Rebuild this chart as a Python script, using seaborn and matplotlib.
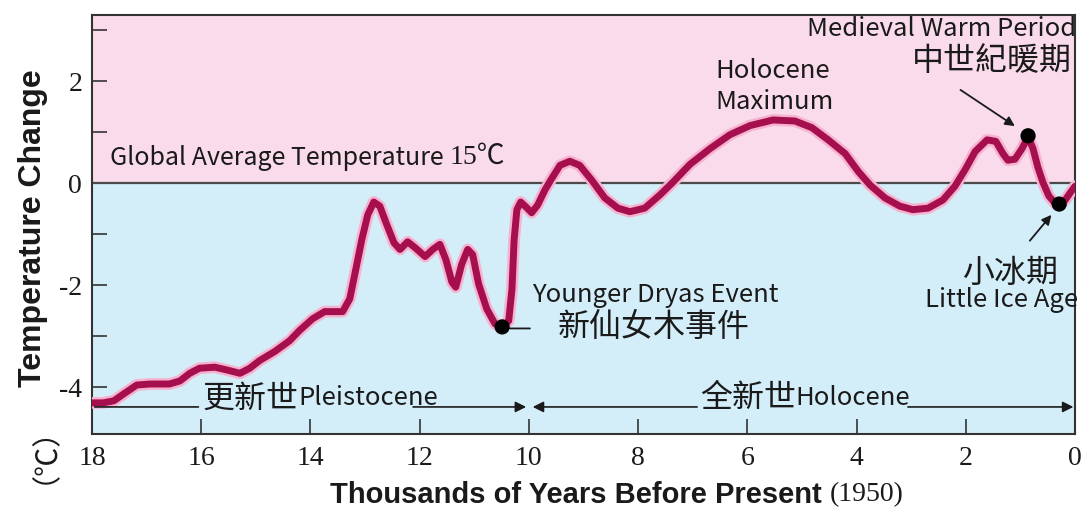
import matplotlib
matplotlib.use("Agg")
import matplotlib.pyplot as plt
import matplotlib.patheffects as pe
import seaborn as sns
import pandas as pd

# Temperature change curve
# years: thousands of years before present (1950), temp: change in degC
years = [18.0, 17.8, 17.6, 17.4, 17.18, 16.94, 16.58, 16.39, 16.21, 16.03,
         15.75, 15.51, 15.29, 15.11, 14.93, 14.65, 14.38, 14.2, 13.96, 13.74,
         13.41, 13.28, 13.15, 13.06, 12.95, 12.84, 12.73, 12.6, 12.47, 12.36,
         12.22, 12.09, 11.9, 11.76, 11.63, 11.52, 11.41, 11.34, 11.23, 11.12,
         11.03, 10.92, 10.77, 10.62, 10.49, 10.37, 10.31, 10.27, 10.22, 10.15,
         10.05, 9.95, 9.84, 9.71, 9.6, 9.43, 9.25, 9.07, 8.85, 8.61,
         8.37, 8.15, 7.88, 7.6, 7.38, 7.05, 6.68, 6.32, 5.95, 5.53,
         5.13, 4.82, 4.52, 4.21, 3.97, 3.75, 3.48, 3.21, 2.97, 2.69,
         2.42, 2.2, 2.01, 1.83, 1.61, 1.45, 1.32, 1.23, 1.1, 0.97,
         0.86, 0.77, 0.68, 0.59, 0.48, 0.37, 0.29, 0.18, 0.09, 0.0]
temp = [-4.31, -4.31, -4.27, -4.12, -3.96, -3.94, -3.94, -3.88, -3.73, -3.63,
        -3.61, -3.67, -3.73, -3.63, -3.48, -3.3, -3.09, -2.89, -2.66, -2.52,
        -2.52, -2.27, -1.59, -1.11, -0.62, -0.37, -0.45, -0.82, -1.17, -1.3,
        -1.15, -1.26, -1.44, -1.3, -1.2, -1.5, -1.94, -2.04, -1.59, -1.3,
        -1.4, -1.98, -2.47, -2.76, -2.82, -2.7, -2.08, -1.11, -0.52, -0.37,
        -0.47, -0.58, -0.43, -0.14, 0.06, 0.35, 0.43, 0.35, 0.06, -0.29,
        -0.49, -0.56, -0.49, -0.23, 0.0, 0.37, 0.68, 0.95, 1.13, 1.24,
        1.22, 1.09, 0.85, 0.58, 0.23, -0.04, -0.29, -0.45, -0.52, -0.49,
        -0.33, -0.06, 0.27, 0.62, 0.85, 0.82, 0.58, 0.45, 0.47, 0.68,
        0.91, 0.68, 0.31, 0.02, -0.25, -0.39, -0.41, -0.33, -0.19, -0.06]

# marked events: Younger Dryas, Medieval Warm Period, Little Ice Age
event_years = [10.49, 0.86, 0.29]
event_temp = [-2.82, 0.93, -0.41]

x_ticks = [18, 16, 14, 12, 10, 8, 6, 4, 2, 0]
y_ticks = [-4, -2, 0, 2]
y_minor = [-3, -1, 1, 3]

df = pd.DataFrame({"years": years, "temp": temp})
events = pd.DataFrame({"years": event_years, "temp": event_temp})

sns.set_style("ticks")
plt.rcParams['font.family'] = ['Liberation Serif', 'Noto Sans CJK SC']
plt.rcParams['axes.unicode_minus'] = False

SANS = ['Noto Sans CJK SC', 'DejaVu Sans']
BOLD = ['Liberation Sans', 'DejaVu Sans']
LAT = 18.5
CJK = 23
ink = '#1a1a1a'

fig = plt.figure(figsize=(10.87, 5.16), dpi=100)
ax = fig.add_axes([0.0846, 0.159, 0.9044, 0.812])
ax.set_xlim(18, 0)
ax.set_ylim(-4.92, 3.3)

# background bands
ax.axhspan(0, 3.3, color='#f9dbeb', zorder=0)
ax.axhspan(-4.92, 0, color='#d4eef9', zorder=0)
ax.axhline(0, color='#4a4a4a', lw=1.6, zorder=1)

sns.lineplot(data=df, x="years", y="temp", estimator=None, sort=False,
             color='#a50f4e', lw=5, ax=ax, zorder=3,
             path_effects=[pe.Stroke(linewidth=8.5, foreground='#f6b2cf'), pe.Normal()])
sns.scatterplot(data=events, x="years", y="temp", color='black', s=120,
                edgecolor='none', ax=ax, zorder=4)

# ticks and frame
ax.set_xticks(x_ticks)
ax.set_yticks(y_ticks)
ax.set_yticks(y_minor, minor=True)
ax.tick_params(axis='both', which='both', direction='in', length=11, width=1.2,
               color='#333333', labelsize=20, pad=7, labelcolor=ink)
ax.tick_params(axis='x', pad=9)
for s in ax.spines.values():
    s.set_color('#333333')
    s.set_linewidth(1.5)
ax.set_xlabel('')
ax.set_ylabel('')


def follow(artist, s, gap=2, **kw):
    # place a text right after another one
    return ax.annotate(s, xy=(1, 0.5), xycoords=artist, xytext=(gap, 0),
                       textcoords='offset points', va='center',
                       annotation_clip=False, color=ink, **kw)


# annotations
g = ax.text(17.67, 0.5, 'Global Average Temperature', family=SANS, fontsize=18,
            color=ink, va='center')
follow(g, '15℃', gap=4, fontsize=20)

ax.text(6.59, 2.2, 'Holocene', family=SANS, fontsize=LAT, color=ink, va='center')
ax.text(6.59, 1.6, 'Maximum', family=SANS, fontsize=LAT, color=ink, va='center')

ax.text(-0.02, 3.03, 'Medieval Warm Period', family=SANS, fontsize=LAT, color=ink,
        ha='right', va='center')
ax.text(2.99, 2.4, '中世紀暖期', family=SANS, fontsize=CJK, color=ink, va='center')
ax.annotate('', xy=(1.06, 1.09), xytext=(2.14, 1.86),
            arrowprops=dict(arrowstyle='-|>', color=ink, lw=1.3, mutation_scale=14))

ax.text(1.19, -1.77, '小冰期', family=SANS, fontsize=CJK, color=ink,
        ha='center', va='center')
ax.text(1.34, -2.3, 'Little Ice Age', family=SANS, fontsize=LAT, color=ink,
        ha='center', va='center')
ax.annotate('', xy=(0.4, -0.58), xytext=(0.86, -1.17),
            arrowprops=dict(arrowstyle='-|>', color=ink, lw=1.3, mutation_scale=14))

ax.text(9.95, -2.2, 'Younger Dryas Event', family=SANS, fontsize=LAT, color=ink,
        va='center')
ax.text(9.47, -2.83, '新仙女木事件', family=SANS, fontsize=CJK, color=ink, va='center')
ax.annotate('', xy=(9.93, -2.85), xytext=(10.4, -2.85),
            arrowprops=dict(arrowstyle='-', color=ink, lw=1.3))

# epoch bars
bar_y = -4.39
ax.annotate('', xy=(16.0, bar_y), xytext=(18.0, bar_y),
            arrowprops=dict(arrowstyle='-', color=ink, lw=1.2))
ax.annotate('', xy=(10.05, bar_y), xytext=(12.12, bar_y),
            arrowprops=dict(arrowstyle='-|>', color=ink, lw=1.2, mutation_scale=16,
                            shrinkA=0, shrinkB=0))
ax.annotate('', xy=(9.93, bar_y), xytext=(6.92, bar_y),
            arrowprops=dict(arrowstyle='-|>', color=ink, lw=1.2, mutation_scale=16,
                            shrinkA=0, shrinkB=0))
ax.annotate('', xy=(0.03, bar_y), xytext=(3.06, bar_y),
            arrowprops=dict(arrowstyle='-|>', color=ink, lw=1.2, mutation_scale=16,
                            shrinkA=0, shrinkB=0))
p = ax.text(15.97, -4.22, '更新世', family=SANS, fontsize=CJK, color=ink, va='center')
follow(p, 'Pleistocene', gap=0, family=SANS, fontsize=LAT)
h = ax.text(6.87, -4.22, '全新世', family=SANS, fontsize=CJK, color=ink, va='center')
follow(h, 'Holocene', gap=0, family=SANS, fontsize=LAT)

# axis titles
fig.text(0.030, 1 - 228 / 516, 'Temperature Change', family=BOLD,
         fontweight='bold', fontsize=23, rotation=90, ha='center', va='center', color=ink)
fig.text(0.028, 1 - 440 / 516, '（℃）', family=SANS, fontsize=21, rotation=90,
         ha='center', va='center', color=ink)
xl = fig.text(330 / 1087, 1 - 495 / 516, 'Thousands of Years Before Present',
              family=BOLD, fontweight='bold', fontsize=21,
              ha='left', va='center', color=ink)
follow(xl, '(1950)', gap=6, fontsize=20)

fig.savefig('out.png', dpi=100)
